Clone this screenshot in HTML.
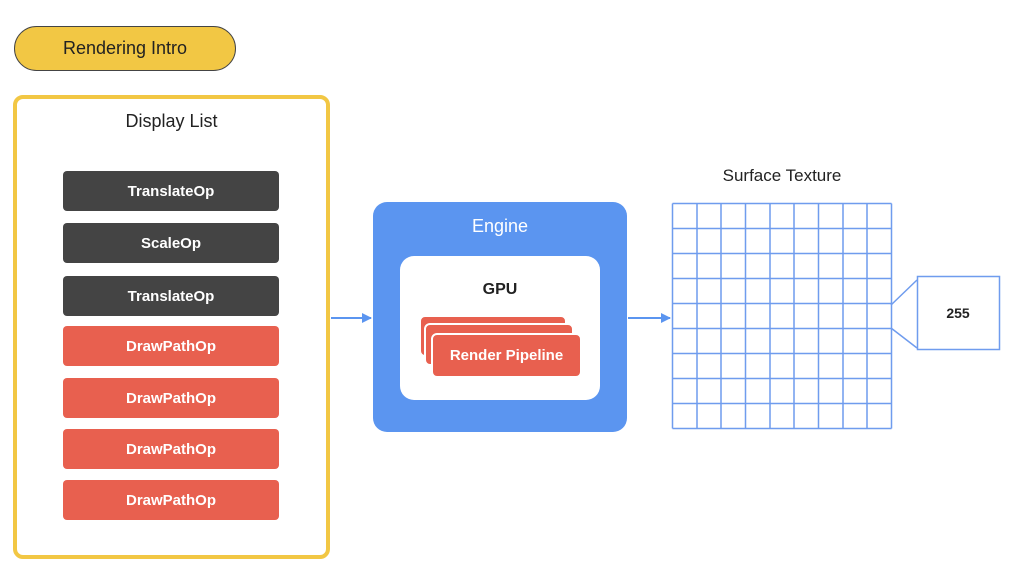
<!DOCTYPE html>
<html><head><style>
body{margin:0;width:1024px;height:587px;background:#fff;position:relative;overflow:hidden;font-family:"Liberation Sans",sans-serif}
.a{position:absolute;box-sizing:border-box}
.op{position:absolute;left:63px;width:216px;height:40px;border-radius:4px;color:#fff;font-weight:bold;font-size:15px;display:flex;align-items:center;justify-content:center}
.d{background:#444}.r{background:#e8604f}
.pc{position:absolute;background:#e8604f;border:2px solid #fff;border-radius:6px;box-sizing:border-box}
</style></head><body>
<div class="a" style="left:14px;top:26px;width:222px;height:45px;background:#f2c744;border:1px solid #444;border-radius:23px;font-size:18px;display:flex;align-items:center;justify-content:center;color:#222">Rendering Intro</div>
<div class="a" style="left:13px;top:95px;width:317px;height:464px;border:4px solid #f2c744;border-radius:10px"></div>
<div class="a" style="left:13px;top:111px;width:317px;text-align:center;font-size:18px;color:#222">Display List</div>
<div class="op d" style="top:171px">TranslateOp</div>
<div class="op d" style="top:223px">ScaleOp</div>
<div class="op d" style="top:276px">TranslateOp</div>
<div class="op r" style="top:326px">DrawPathOp</div>
<div class="op r" style="top:378px">DrawPathOp</div>
<div class="op r" style="top:429px">DrawPathOp</div>
<div class="op r" style="top:480px">DrawPathOp</div>
<div class="a" style="left:373px;top:202px;width:254px;height:230px;background:#5b95f0;border-radius:14px"></div>
<div class="a" style="left:373px;top:216px;width:254px;text-align:center;color:#fff;font-size:18px">Engine</div>
<div class="a" style="left:400px;top:256px;width:200px;height:144px;background:#fff;border-radius:14px"></div>
<div class="a" style="left:400px;top:281px;width:200px;text-align:center;font-size:16px;font-weight:bold;color:#222">GPU</div>
<div class="pc" style="left:419px;top:315px;width:148px;height:42px"></div>
<div class="pc" style="left:424px;top:323px;width:150px;height:43px"></div>
<div class="pc" style="left:431px;top:333px;width:151px;height:45px;color:#fff;font-weight:bold;font-size:15px;display:flex;align-items:center;justify-content:center">Render Pipeline</div>
<div class="a" style="left:672px;top:166px;width:220px;text-align:center;font-size:17px;color:#222">Surface Texture</div>
<svg class="a" style="left:0;top:0" width="1024" height="587">
<defs><marker id="m" markerWidth="10" markerHeight="10" refX="9" refY="5" orient="auto" markerUnits="userSpaceOnUse"><path d="M0,0L10,5L0,10z" fill="#5b95f0"/></marker></defs>
<line x1="331" y1="318" x2="371" y2="318" stroke="#5b95f0" stroke-width="2" marker-end="url(#m)"/>
<line x1="628" y1="318" x2="670" y2="318" stroke="#5b95f0" stroke-width="2" marker-end="url(#m)"/>
<g stroke="#6f9cee" stroke-width="1.5" fill="none">
<path d="M672.5,203.5V428.5M697,203.5V428.5M721,203.5V428.5M745.5,203.5V428.5M770,203.5V428.5M794,203.5V428.5M818.5,203.5V428.5M843,203.5V428.5M867,203.5V428.5M891.5,203.5V428.5"/>
<path d="M672.5,203.5H891.5M672.5,228.5H891.5M672.5,253.5H891.5M672.5,278.5H891.5M672.5,303.5H891.5M672.5,328.5H891.5M672.5,353.5H891.5M672.5,378.5H891.5M672.5,403.5H891.5M672.5,428.5H891.5"/>
<rect x="917.5" y="276.5" width="82" height="73"/>
<path d="M891,305L917,280M891,328L917,348"/>
</g>
<text x="958" y="318" text-anchor="middle" font-family="Liberation Sans" font-weight="bold" font-size="14" fill="#222">255</text>
</svg>
</body></html>
